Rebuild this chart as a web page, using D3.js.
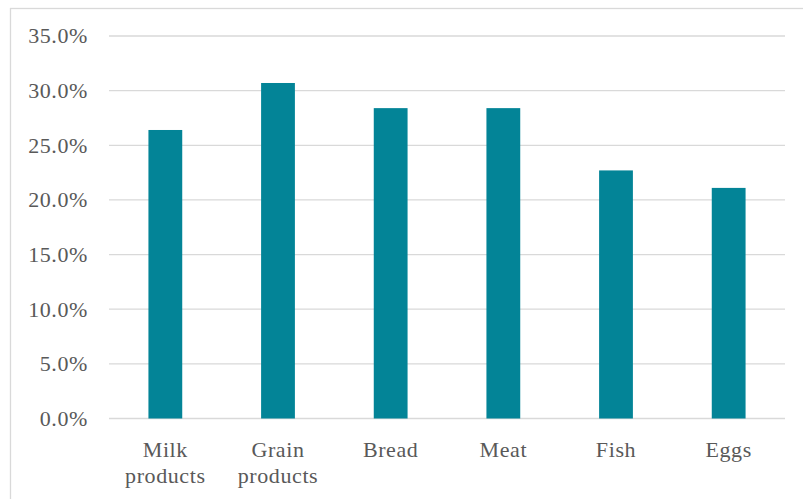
<!DOCTYPE html>
<html>
<head>
<meta charset="utf-8">
<script src="https://cdn.jsdelivr.net/npm/d3@7"></script>
<style>
body{margin:0;background:#fff}
</style>
</head>
<body>
<svg id="chart" width="803" height="499"></svg>
<script>
let categories=[["Milk","products"],["Grain","products"],["Bread"],["Meat"],["Fish"],["Eggs"]]
let values=[0.264,0.307,0.284,0.284,0.227,0.211]
let yTicks=[0,0.05,0.10,0.15,0.20,0.25,0.30,0.35]

let svg=d3.select("#chart")
let plotLeft=109,plotRight=785,plotTop=36,plotBottom=418.5
let serif="'Liberation Serif','Times New Roman',Times,'DejaVu Serif',serif"

// outer frame (only top and left edges show)
svg.append("rect")
	.attr("x",10.5).attr("y",8.5)
	.attr("width",820).attr("height",520)
	.attr("fill","none").attr("stroke","#d9d9d9").attr("stroke-width",1.3)

let x=d3.scaleBand()
	.domain(d3.range(categories.length))
	.range([plotLeft,plotRight])
	.paddingInner(0.7).paddingOuter(0.35)
let y=d3.scaleLinear().domain([0,0.35]).range([plotBottom,plotTop])

svg.selectAll("line.grid")
	.data(yTicks)
	.enter().append("line")
	.attr("class","grid")
	.attr("x1",plotLeft).attr("x2",plotRight)
	.attr("y1",d=>y(d)).attr("y2",d=>y(d))
	.attr("stroke","#d9d9d9").attr("stroke-width",1.3)

svg.selectAll("text.ytick")
	.data(yTicks)
	.enter().append("text")
	.attr("class","ytick")
	.attr("x",88).attr("y",d=>y(d))
	.attr("dy","0.34em")
	.attr("text-anchor","end")
	.attr("font-family",serif)
	.attr("font-size",22)
	.attr("letter-spacing",0.6)
	.attr("fill","#595959")
	.text(d=>d3.format(".1%")(d))

svg.selectAll("rect.bar")
	.data(values)
	.enter().append("rect")
	.attr("class","bar")
	.attr("x",(d,i)=>x(i))
	.attr("width",x.bandwidth())
	.attr("y",d=>y(d))
	.attr("height",d=>y(0)-y(d))
	.attr("fill","#038497")

let labels=svg.selectAll("text.xlab")
	.data(categories)
	.enter().append("text")
	.attr("class","xlab")
	.attr("text-anchor","middle")
	.attr("font-family",serif)
	.attr("font-size",22)
	.attr("letter-spacing",0.6)
	.attr("fill","#595959")
labels.selectAll("tspan")
	.data((d,i)=>d.map(t=>({t:t,i:i})))
	.enter().append("tspan")
	.attr("x",d=>x(d.i)+x.bandwidth()/2)
	.attr("y",(d,j)=>457+j*26)
	.text(d=>d.t)
</script>
</body>
</html>
